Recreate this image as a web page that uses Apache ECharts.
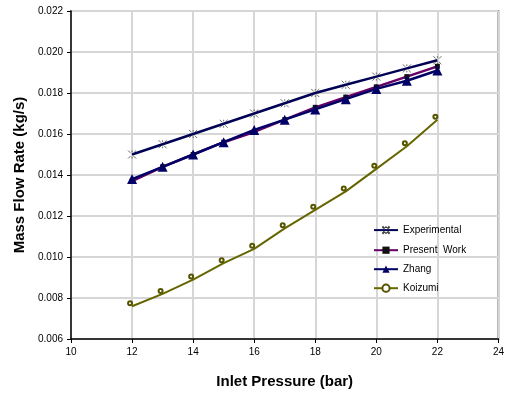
<!DOCTYPE html>
<html>
<head>
<meta charset="utf-8">
<script src="https://cdn.jsdelivr.net/npm/echarts@6/dist/echarts.min.js"></script>
<style>
  html, body { margin: 0; padding: 0; background: #fff; }
  #container { width: 507px; height: 398px; }
</style>
</head>
<body>
<div id="container"></div>
<script>
// inlet pressure (bar)
var pressure = [12, 13, 14, 15, 16, 17, 18, 19, 20, 21, 22];

// mass flow rate (kg/s)
var experimental = [0.0150, 0.0155, 0.0160, 0.0165, 0.0170, 0.0175, 0.0180, 0.0184, 0.0188, 0.0192, 0.0196];
var presentWork  = [0.0137, 0.0144, 0.0150, 0.0156, 0.0161, 0.0167, 0.0173, 0.0178, 0.0183, 0.0188, 0.0193];
var zhang        = [0.0138, 0.0144, 0.0150, 0.0156, 0.0162, 0.0167, 0.0172, 0.0177, 0.0182, 0.0186, 0.0191];
var koizumi      = [0.0076, 0.0082, 0.0089, 0.0097, 0.0104, 0.0114, 0.0123, 0.0132, 0.0143, 0.0154, 0.0167];

function pairs(ys) {
    var out = [];
    for (var i = 0; i < pressure.length; i++) {
        out.push([pressure[i], ys[i]]);
    }
    return out;
}

var font = 'Liberation Sans, Arial, sans-serif';
var dom = document.getElementById('container');
var myChart = echarts.init(dom);

var option = {
    animation: false,
    grid: {
        left: 71, top: 11, width: 432, height: 328,
        show: true,
        borderColor: '#222',
        borderWidth: 1.5,
        backgroundColor: 'transparent'
    },
    legend: {
        orient: 'vertical',
        left: 368,
        top: 219,
        itemWidth: 24,
        itemHeight: 9,
        itemGap: 9,
        textStyle: { fontFamily: font, fontSize: 10, color: '#000' },
        data: ['Experimental', 'Present  Work', 'Zhang', 'Koizumi']
    },
    xAxis: {
        type: 'value',
        min: 10, max: 24, interval: 2,
        name: 'Inlet Pressure (bar)',
        nameLocation: 'middle',
        nameGap: 35,
        nameTextStyle: { fontFamily: font, fontSize: 15, fontWeight: 'bold', color: '#000' },
        axisLine: { lineStyle: { color: '#000', width: 1.5 } },
        axisTick: { show: true, length: 4, lineStyle: { color: '#000' } },
        axisLabel: { fontFamily: font, fontSize: 10, color: '#000', margin: 8 },
        splitLine: { lineStyle: { color: '#d6d6d6', width: 2 } }
    },
    yAxis: {
        type: 'value',
        min: 0.006, max: 0.022, interval: 0.002,
        name: 'Mass Flow Rate (kg/s)',
        nameLocation: 'middle',
        nameGap: 44,
        nameTextStyle: { fontFamily: font, fontSize: 15, fontWeight: 'bold', color: '#000' },
        axisLine: { show: true, lineStyle: { color: '#000', width: 1.5 } },
        axisTick: { show: true, length: 4, lineStyle: { color: '#000' } },
        axisLabel: {
            fontFamily: font, fontSize: 10, color: '#000', margin: 8,
            formatter: function (v) { return v.toFixed(3); }
        },
        splitLine: { lineStyle: { color: '#d6d6d6', width: 2 } }
    },
    series: [
        {
            name: 'Experimental',
            type: 'line',
            data: pairs(experimental),
            symbol: 'path://M0,0L3,3M7,7L10,10M10,0L7,3M3,7L0,10M5,0L5,2M5,8L5,10',
            symbolSize: 8,
            itemStyle: { color: 'none', borderColor: '#444', borderWidth: 0.8 },
            lineStyle: { color: '#000055', width: 2.5 }
        },
        {
            name: 'Present  Work',
            type: 'line',
            data: pairs(presentWork),
            symbol: 'rect',
            symbolSize: 5,
            itemStyle: { color: '#111' },
            lineStyle: { color: '#660066', width: 2.5 }
        },
        {
            name: 'Zhang',
            type: 'line',
            data: pairs(zhang),
            symbol: 'triangle',
            symbolSize: 10,
            itemStyle: { color: '#000066' },
            lineStyle: { color: '#000066', width: 2.5 }
        },
        {
            name: 'Koizumi',
            type: 'line',
            data: pairs(koizumi),
            symbol: 'emptyCircle',
            symbolSize: 4,
            symbolOffset: [-2, -3],
            itemStyle: { color: '#555500', borderWidth: 1 },
            lineStyle: { color: '#666600', width: 2 }
        }
    ]
};

myChart.setOption(option, true);
</script>
</body>
</html>
